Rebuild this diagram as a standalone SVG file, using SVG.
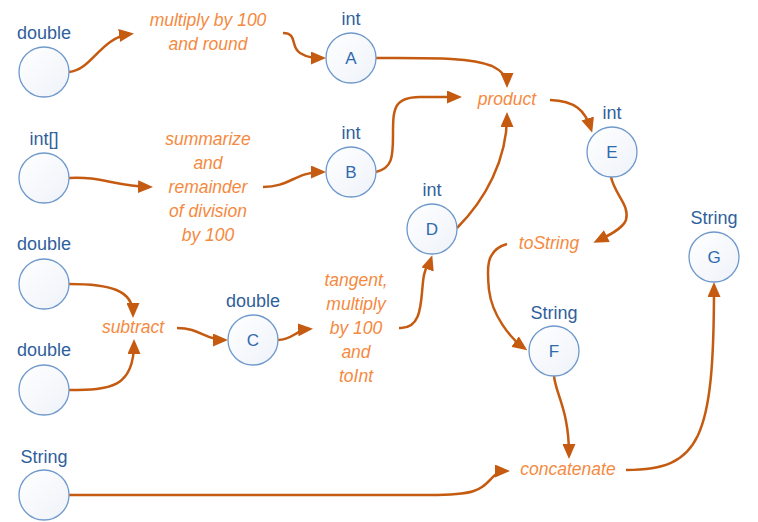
<svg xmlns="http://www.w3.org/2000/svg" width="758" height="522" viewBox="0 0 758 522">
<style>
.node circle{fill:url(#g);stroke:#6F99CC;stroke-width:1.3}
.type{font-family:"Liberation Sans",Arial,sans-serif;font-size:18px;fill:#30609C;text-anchor:middle}
.id{font-family:"Liberation Sans",Arial,sans-serif;font-size:17px;fill:#2F6AAE;text-anchor:middle}
.fn{font-family:"Liberation Sans",Arial,sans-serif;font-size:17.5px;font-style:italic;fill:#F58A3F;text-anchor:middle}
#connectors path{fill:none;stroke:#C55A11;stroke-width:2.5;marker-end:url(#ah)}
</style>
<defs>
<linearGradient id="g" x1="0" y1="0" x2="1" y2="1">
<stop offset="0" stop-color="#FFFFFF"/>
<stop offset="1" stop-color="#EEF2F9"/>
</linearGradient>
<marker id="ah" viewBox="0 0 15 13" markerWidth="15" markerHeight="13" markerUnits="userSpaceOnUse" refX="11" refY="6.5" orient="auto">
<path d="M0,0 L15,6.5 L0,13 z" fill="#C55A11"/>
</marker>
</defs>
<rect width="758" height="522" fill="#FFFFFF"/>
<g id="connectors">
<path d="M69,72 C92,70 100,38 130,34"/>
<path d="M283,33 C298,33 290,47 300,53 C308,58 315,58 322,58"/>
<path d="M376,58 C430,58 470,57 492,66 C502,71 507,77 507,84"/>
<path d="M69,178 C100,176 115,186 149,187"/>
<path d="M263,187 C290,187 295,172 322,172"/>
<path d="M376,172 C392,168 393,158 393,135 C393,110 393,97 420,97 L458,97"/>
<path d="M457,228 C485,200 507,160 507,116"/>
<path d="M550,100 C575,101 585,110 591,129"/>
<path d="M611,177 C615,195 630,205 626,220 C622,230 605,237 597,241"/>
<path d="M507,244 C485,250 487,270 489,290 C492,315 510,338 524,348"/>
<path d="M554,376 C556,395 569,410 569,455"/>
<path d="M69,495 L430,495 C475,495 480,490 490,480 C495,474 500,471 506,471"/>
<path d="M626,470 C700,470 714,440 714,286"/>
<path d="M69,284 C110,284 133,290 133,314"/>
<path d="M69,390 C110,390 134,388 134,343"/>
<path d="M177,328 C200,328 205,340 224,340"/>
<path d="M278,340 C292,340 296,330 309,329"/>
<path d="M399,328 C425,330 420,295 424,275 C426,265 430,262 431,259"/>
</g>
<g id="in1" class="node"><text class="type" x="44" y="39">double</text><circle cx="44" cy="72" r="25"/></g>
<g id="in2" class="node"><text class="type" x="44" y="145">int[]</text><circle cx="44" cy="178" r="25"/></g>
<g id="in3" class="node"><text class="type" x="44" y="250">double</text><circle cx="44" cy="284" r="25"/></g>
<g id="in4" class="node"><text class="type" x="44" y="356">double</text><circle cx="44" cy="390" r="25"/></g>
<g id="in5" class="node"><text class="type" x="44" y="463">String</text><circle cx="44" cy="495" r="25"/></g>
<g id="A" class="node"><text class="type" x="351" y="25">int</text><circle cx="351" cy="58" r="25"/><text class="id" x="351" y="64">A</text></g>
<g id="B" class="node"><text class="type" x="351" y="139">int</text><circle cx="351" cy="172" r="25"/><text class="id" x="351" y="178">B</text></g>
<g id="C" class="node"><text class="type" x="253" y="307">double</text><circle cx="253" cy="340" r="25"/><text class="id" x="253" y="346">C</text></g>
<g id="D" class="node"><text class="type" x="432" y="196">int</text><circle cx="432" cy="229" r="25"/><text class="id" x="432" y="235">D</text></g>
<g id="E" class="node"><text class="type" x="612" y="119">int</text><circle cx="612" cy="152" r="25"/><text class="id" x="612" y="158">E</text></g>
<g id="F" class="node"><text class="type" x="554" y="319">String</text><circle cx="554" cy="351" r="25"/><text class="id" x="554" y="357">F</text></g>
<g id="G" class="node"><text class="type" x="714" y="224">String</text><circle cx="714" cy="257" r="25"/><text class="id" x="714" y="263">G</text></g>
<g id="f-mult"><text class="fn" x="208" y="26">multiply by 100</text><text class="fn" x="208" y="50">and round</text></g>
<g id="f-sum"><text class="fn" x="208" y="145">summarize</text><text class="fn" x="208" y="169">and</text><text class="fn" x="208" y="193">remainder</text><text class="fn" x="208" y="217">of division</text><text class="fn" x="208" y="241">by 100</text></g>
<g id="f-sub"><text class="fn" x="133" y="333">subtract</text></g>
<g id="f-tan"><text class="fn" x="356" y="286">tangent,</text><text class="fn" x="356" y="310">multiply</text><text class="fn" x="356" y="334">by 100</text><text class="fn" x="356" y="358">and</text><text class="fn" x="356" y="382">toInt</text></g>
<g id="f-prod"><text class="fn" x="507" y="105">product</text></g>
<g id="f-tostr"><text class="fn" x="549" y="249">toString</text></g>
<g id="f-cat"><text class="fn" x="568" y="475">concatenate</text></g>
</svg>
